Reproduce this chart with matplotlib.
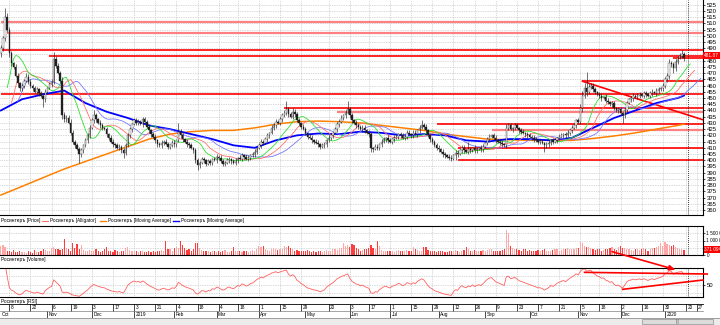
import numpy as np
import pandas as pd
import matplotlib
matplotlib.use("Agg")
import matplotlib.pyplot as plt
from matplotlib.patches import Rectangle, ConnectionPatch
import matplotlib.transforms as mtransforms

plt.rcParams["font.family"] = ["Liberation Sans", "DejaVu Sans"]
NARROW = ["Liberation Sans Narrow", "Liberation Sans", "DejaVu Sans"]

W, H = 720, 325
NAME = "Росинтеръ"

# daily closes, 2 Oct 2018 .. 17 Jan 2020
close = [float(v) for v in """
490 498 515 505 486 478 475 468 462 458
460 464 467 463 460 458 455 457 454 452
449 455 458 461 463 481 476 470 464 436
433 434 430 422 415 412 409 405 408 412
416 420 426 432 436 433 430 428 426 425
421 418 415 413 412 410 411 408 406 412
420 425 429 432 430 431 429 433 431 427
424 421 419 416 413 412 414 415 413 411
412 414 413 416 423 420 417 415 413 412
410 408 400 396 398 401 400 397 399 398
401 400 403 402 399 397 398 400 401 399
398 400 402 401 404 403 401 402 404 405
407 410 412 415 414 417 420 422 426 428
431 430 433 436 438 441 437 435 439 437
432 430 427 425 422 419 418 416 415 414
413 411 412 413 416 418 420 422 425 429
431 434 436 438 441 436 432 430 428 427
425 426 424 422 421 410 409 411 410 413
415 417 418 416 415 417 418 419 421 420
418 419 422 421 420 422 421 424 426 428
427 424 420 417 415 412 410 409 407 405
404 403 402 401 404 406 405 408 410 408
407 409 408 410 408 409 410 409 411 414
417 419 420 418 416 415 414 413 412 426
428 425 426 428 426 424 423 422 421 420
419 418 417 416 415 415 414 412 413 414
416 415 416 418 419 420 421 420 422 424
426 428 432 431 442 452 458 455 459 460
457 455 453 452 450 451 448 447 445 446
442 440 441 438 436 440 446 449 450 452
451 452 453 452 454 453 452 454 455 454
456 457 458 460 465 468 478 477 474 479
482 484 485 481.87
""".split()]
first_open = 486.0

# shadow length above / below the candle body
up_shadow = [float(v) for v in """
3 2 7 3 2 2 1 2 2 1
2 1 3 2 2 1 2 2 1 2
2 2 1 2 2 6 3 2 2 3
3 2 2 3 2 1 2 2 2 1
2 2 2 2 4 2 1 2 2 1
2 1 2 2 1 2 2 1 2 2
2 2 1 2 2 2 1 2 2 1
2 1 2 2 1 2 2 1 2 2
1 2 2 1 7 2 2 1 2 2
2 1 2 2 1 2 2 1 2 2
1 2 2 1 2 2 1 2 2 1
2 2 1 2 2 1 2 2 1 2
2 1 2 2 1 2 2 1 2 2
2 1 2 2 2 7 2 2 3 2
2 2 1 2 2 1 2 2 1 2
2 1 2 2 1 2 2 1 2 2
2 2 1 2 7 2 2 1 2 2
1 2 2 1 2 2 1 2 2 1
2 2 1 2 2 1 2 2 1 2
2 1 2 2 1 2 2 1 2 4
2 2 1 2 2 1 2 2 1 2
2 1 2 2 1 2 2 1 2 2
1 6 2 1 2 2 1 2 2 1
2 2 1 2 2 1 2 2 1 3
2 2 1 2 2 1 2 2 1 2
2 1 2 2 1 2 2 1 2 2
1 2 2 1 2 2 1 2 2 1
2 2 1 2 3 4 4 13 3 2
2 2 1 2 2 1 2 2 1 2
2 1 2 2 1 2 2 1 2 2
1 2 2 1 2 2 1 2 2 1
2 2 1 2 2 2 3 2 2 2
2 2 4 2
""".split()]
down_shadow = [float(v) for v in """
3 2 2 2 3 2 2 1 3 2
2 2 1 2 2 2 1 2 2 1
6 2 2 1 2 2 2 1 2 3
2 2 1 2 2 2 1 7 2 2
1 2 2 1 2 2 1 2 2 1
2 2 1 2 2 1 2 2 4 2
1 2 2 1 2 2 1 2 2 1
2 2 1 2 2 1 2 2 1 2
2 1 2 2 1 2 2 1 2 2
1 2 2 4 2 1 2 2 1 2
2 1 2 2 1 2 2 1 2 2
1 2 2 1 2 2 1 2 2 1
2 2 1 2 2 1 2 2 1 2
2 1 2 2 1 2 2 1 2 2
1 2 2 1 2 2 1 2 2 1
2 2 1 2 2 1 2 2 1 2
2 1 2 2 1 2 2 1 2 2
1 2 2 1 2 3 2 1 2 2
2 1 2 2 1 2 2 1 2 2
1 2 2 1 2 2 1 2 2 1
2 2 1 2 2 1 2 2 1 2
2 1 2 2 1 4 2 1 2 2
1 2 2 1 2 2 1 2 2 1
2 2 1 2 2 1 2 2 1 2
2 1 2 2 1 2 2 1 2 2
1 2 2 1 2 2 1 5 2 2
2 2 1 2 2 1 2 2 1 2
2 1 2 2 2 3 2 3 2 2
2 2 1 2 2 1 2 2 1 2
2 1 2 2 6 2 2 1 2 2
1 2 2 1 2 2 1 2 2 1
2 2 1 2 2 2 3 2 4 2
2 1 2 2
""".split()]

# daily volume, thousands of shares
volume_k = [float(v) for v in """
650 700 560 300 250 200 350 180 220 280
240 180 150 300 200 160 350 220 190 250
400 350 300 280 450 520 380 420 350 400
1090 450 380 300 820 500 780 400 700 350
300 250 320 280 260 420 300 220 250 380
520 300 250 200 330 280 220 250 300 450
560 350 300 250 280 200 260 310 230 200
270 240 300 220 260 280 350 300 1000 420
380 300 450 520 500 1000 680 450 350 380
300 420 820 860 500 350 300 250 280 220
250 300 200 260 230 280 350 240 200 260
560 300 280 250 220 300 260 240 280 330
300 380 600 560 620 420 350 300 380 450
400 350 420 380 600 580 620 450 380 300
350 300 280 250 300 320 250 200 280 240
300 260 220 280 350 300 260 380 420 350
450 500 820 600 700 520 780 700 450 380
300 350 420 380 450 700 500 420 950 600
350 300 280 250 300 260 230 280 320 250
300 280 350 260 300 560 400 350 300 280
550 520 350 300 280 250 220 300 260 280
240 200 250 300 280 320 260 240 300 350
560 420 300 280 350 300 250 280 320 300
350 400 380 300 280 260 300 350 420 1700
1500 600 450 380 400 350 300 420 380 300
350 300 280 250 320 300 350 400 300 280
300 350 400 380 300 350 420 380 450 420
400 380 450 500 870 820 600 520 560 450
400 350 420 380 300 350 400 380 450 570
420 350 560 620 500 450 380 420 350 300
380 420 350 400 450 380 300 420 500 450
520 600 800 650 900 750 700 600 680 560
450 380 420 371.094
""".split()]

# moving averages read every 10 sessions (last point on the final session)
ma_bars = list(range(0, 321, 10)) + [323]
ma_orange = [372, 379, 386, 393, 399, 405, 411, 417, 421, 423, 424, 424, 426, 429,
             431, 431.5, 431, 430, 428, 426, 424, 421, 419, 417, 416.5, 416, 416,
             416, 417.5, 419.5, 422, 425, 428, 429]
ma_blue = [440, 449, 453, 456, 446, 439, 434, 428, 425, 421, 417, 412, 410, 416,
           420, 421.5, 421, 423, 422, 420, 421, 420, 416, 415, 417, 417, 416, 418,
           426, 434, 440, 446, 450, 452]

# support / resistance levels: price, first session, light or solid
level_price = [511, 502, 489, 484, 453, 442, 438.6, 463.5, 482, 428.8, 424.3, 409.8, 400]
level_start = [0, 3, 0, 23, 0, 134, 159, 275, 318, 206, 232, 216, 216]
level_light = [True, True, False, False, False, False, True, False, False, False, True, False, False]

# trend line on price and on RSI (session, value)
price_trend = [(275, 463.5), (332, 432.5)]
rsi_trend_top = [(276, 79.5), (334, 75.5)]
rsi_trend_low = [(294, 38.5), (332, 61.0)]

holidays = ["2018-11-05", "2018-12-31", "2019-01-01", "2019-01-02", "2019-01-07",
            "2019-01-08", "2019-03-08", "2019-05-01", "2019-05-09", "2019-06-12",
            "2019-11-04", "2019-12-31", "2020-01-01", "2020-01-02", "2020-01-07"]
day_ticks = ["2018-10-08", "2018-10-22", "2018-11-06", "2018-11-19", "2018-12-03",
             "2018-12-17", "2019-01-03", "2019-01-21", "2019-02-04", "2019-02-18",
             "2019-03-04", "2019-03-18", "2019-04-01", "2019-04-15", "2019-04-29",
             "2019-05-20", "2019-06-03", "2019-06-17", "2019-07-01", "2019-07-15",
             "2019-07-29", "2019-08-12", "2019-08-26", "2019-09-09", "2019-09-23",
             "2019-10-07", "2019-10-21", "2019-11-05", "2019-11-18", "2019-12-02",
             "2019-12-16", "2019-12-30", "2020-01-20", "2020-01-27"]
month_abbr = ["Jan", "Feb", "Mar", "Apr", "May", "Jun", "Jul", "Aug", "Sep", "Oct", "Nov", "Dec"]

sessions = pd.bdate_range("2018-10-02", "2020-02-14")
sessions = sessions[~sessions.isin(pd.to_datetime(holidays))]

n = len(close)
idx = np.arange(n)
close = np.array(close)
opens = np.r_[first_open, close[:-1]]
high = np.maximum(opens, close) + np.array(up_shadow)
low = np.minimum(opens, close) - np.array(down_shadow)
volume = np.array(volume_k) * 1000

XL = (-0.4, 332.0)
GRID = dict(color="#b4b4b4", linestyle=(0, (1, 1.5)), linewidth=0.5)
FS = 4.3     # price scale
FS_SMALL = 3.4

fig = plt.figure(figsize=(W / 100, H / 100), dpi=100)


def px_axes(x0, y0, x1, y1):
    return fig.add_axes([x0 / W, 1 - y1 / H, (x1 - x0) / W, (y1 - y0) / H])


def ftext(x, y, s, **kw):
    kw.setdefault("fontsize", FS_SMALL)
    kw.setdefault("va", "center")
    kw.setdefault("family", NARROW)
    return fig.text(x / W, 1 - y / H, s, **kw)


def fline(x0, y0, x1, y1, **kw):
    fig.add_artist(plt.Line2D([x0 / W, x1 / W], [1 - y0 / H, 1 - y1 / H],
                              transform=fig.transFigure, **kw))


tick_bars = [sessions.get_loc(pd.Timestamp(d)) for d in day_ticks]

# ---- price panel
ax = px_axes(0, 0, 703, 215)
ax.set_xlim(*XL)
ax.set_ylim(356.0, 528.8)
for t in tick_bars:
    ax.axvline(t, zorder=0, **GRID)
for p in range(360, 530, 5):
    ax.axhline(p, zorder=0, **GRID)

for p, s, light in zip(level_price, level_start, level_light):
    if light:
        ax.hlines(p, max(s, XL[0]), XL[1], color="#ff8080", lw=1.6, zorder=1)
    else:
        ax.hlines(p, max(s, XL[0]), XL[1], color="#ff0000", lw=1.2, zorder=1)
(tx0, ty0), (tx1, ty1) = price_trend
ax.plot([tx0, tx1], [ty0, ty1], color="#ff0000", lw=1.2, zorder=1)

ax.plot(ma_bars, ma_orange, color="#ff8000", lw=1.1, zorder=2)
ax.plot(ma_bars, ma_blue, color="#0000ff", lw=1.3, zorder=2)

# Alligator: smoothed median price, shifted forward
median = (high + low) / 2


def smma(values, period, seed):
    out, s = [], seed
    for v in values:
        s = s + (v - s) / period
        out.append(s)
    return np.array(out)


for period, shift, seed, col in [(13, 8, 444, "#7878ff"), (8, 5, 440, "#ff7070"), (5, 3, 451, "#30e030")]:
    ax.plot(idx + shift, smma(median, period, seed), color=col, lw=0.6, zorder=3)

up = close >= opens
ax.vlines(idx, low, high, color="#202020", lw=0.45, zorder=4)
body = np.maximum(np.abs(close - opens), 0.4)
ax.bar(idx, body, bottom=np.minimum(opens, close), width=0.7,
       color=np.where(up, "white", "#202020"), edgecolor="#202020", linewidth=0.25, zorder=5)

ax.axvline(325, color="black", linestyle=(0, (1, 1.5)), lw=0.6, zorder=1)
ax.yaxis.tick_right()
ax.set_yticks(range(360, 530, 5))
ax.tick_params(axis="y", labelsize=FS, length=1.5, pad=1, width=0.5)
ax.set_xticks([])
for sp in ["top", "left"]:
    ax.spines[sp].set_visible(False)
for sp in ["right", "bottom"]:
    ax.spines[sp].set_linewidth(0.8)

last = close[-1]
ax.text(1.002, (last - 356.0) / (528.8 - 356.0) + 0.012, f"{last:.2f}", transform=ax.transAxes,
        fontsize=FS_SMALL, color="white", va="center", ha="left", zorder=10,
        bbox=dict(boxstyle="square,pad=0.2", fc="#ff0000", ec="none"))

# ---- legend strip
ftext(1, 220.5, f"{NAME} [Price]")
fline(42, 220.5, 48, 220.5, color="#ff7070", lw=0.8)
ftext(50, 220.5, f"{NAME} [Alligator]")
fline(100, 220.5, 106, 220.5, color="#ff8000", lw=1.0)
ftext(108, 220.5, f"{NAME} [Moving Average]")
fline(173, 220.5, 179, 220.5, color="#0000ff", lw=1.0)
ftext(181, 220.5, f"{NAME} [Moving Average]")

# ---- volume panel
av = px_axes(0, 226, 703, 255)
av.set_xlim(*XL)
av.set_ylim(0, 2_000_000)
for t in tick_bars:
    av.axvline(t, zorder=0, **GRID)
for v in (500_000, 1_000_000, 1_500_000):
    av.axhline(v, zorder=0, **GRID)
av.bar(idx, volume, width=0.55, color=np.where(up, "#ffa8a8", "#ff3c3c"), zorder=2)
av.axvline(325, color="black", linestyle=(0, (1, 1.5)), lw=0.6)
av.yaxis.tick_right()
av.set_yticks([0, 500_000, 1_000_000, 1_500_000])
av.set_yticklabels(["0", "500 000", "1 000 000", "1 500 000"])
av.tick_params(axis="y", labelsize=FS_SMALL, length=1.5, pad=1, width=0.5)
av.set_xticks([])
av.spines["left"].set_visible(False)
for sp in ["right", "bottom", "top"]:
    av.spines[sp].set_linewidth(0.8)
av.text(1.002, volume[-1] / 2_000_000, f"{volume[-1]:,.0f}".replace(",", " "),
        transform=av.transAxes, fontsize=FS_SMALL, color="white", va="center", ha="left",
        zorder=10, bbox=dict(boxstyle="square,pad=0.15", fc="#ff0000", ec="none"))
ftext(1, 260, f"{NAME} [Volume]")

# ---- RSI panel
delta = np.diff(close, prepend=close[0])
gain = pd.Series(np.clip(delta, 0, None)).ewm(alpha=1 / 14, adjust=True).mean()
loss = pd.Series(np.clip(-delta, 0, None)).ewm(alpha=1 / 14, adjust=True).mean()
rsi = 100 - 100 / (1 + gain / loss.replace(0, np.nan))
rsi = rsi.fillna(100).to_numpy()

ar = px_axes(0, 268, 703, 297)
ar.set_xlim(*XL)
ar.set_ylim(20, 90)
for t in tick_bars:
    ar.axvline(t, zorder=0, **GRID)
for v in (30, 50, 70):
    ar.axhline(v, zorder=0, **GRID)
ar.plot(idx, rsi, color="#ff6060", lw=0.6, zorder=2)
for seg in (rsi_trend_top, rsi_trend_low):
    (a0, b0), (a1, b1) = seg
    ar.plot([a0, a1], [b0, b1], color="#ff0000", lw=1.2, clip_on=False, zorder=3)
ar.axvline(325, color="black", linestyle=(0, (1, 1.5)), lw=0.6)
ar.yaxis.tick_right()
ar.set_yticks([50])
ar.tick_params(axis="y", labelsize=FS, length=1.5, pad=1, width=0.5)
ar.set_xticks([])
ar.spines["left"].set_visible(False)
for sp in ["right", "bottom", "top"]:
    ar.spines[sp].set_linewidth(0.8)
ftext(1, 301, f"{NAME} [RSI]")

arrow = ConnectionPatch(xyA=(289, 230_000), coordsA=av.transData,
                        xyB=(319, 86), coordsB=ar.transData,
                        arrowstyle="-|>,head_length=0.35,head_width=0.15",
                        color="#ff0000", lw=1.2, zorder=10)
fig.add_artist(arrow)

# ---- date axis
ad = px_axes(0, 304, 703, 318)
ad.set_xlim(*XL)
ad.set_ylim(0, 2)
ad.axis("off")
fline(0, 304, 703, 304, color="black", lw=0.6)
fline(0, 311, 703, 311, color="#808080", lw=0.5)
fline(0, 318, 720, 318, color="#808080", lw=0.5)
off = mtransforms.offset_copy(ad.transData, fig=fig, x=1.5, y=0, units="dots")
for t, d in zip(tick_bars, day_ticks):
    ad.plot([t, t], [1, 2], color="black", lw=0.5)
    ad.text(t, 1.5, str(pd.Timestamp(d).day), transform=off, fontsize=FS_SMALL,
            va="center", family=NARROW)

ad.text(XL[0], 0.5, month_abbr[sessions[0].month - 1], transform=off,
        fontsize=FS_SMALL, va="center", family=NARROW)
prev = sessions[0].month
for i, d in enumerate(sessions[:332]):
    if d.month != prev:
        prev = d.month
        label = str(d.year) if d.month == 1 else month_abbr[d.month - 1]
        ad.plot([i, i], [0, 1], color="black", lw=0.5)
        ad.text(i, 0.5, label, transform=off, fontsize=FS_SMALL, va="center", family=NARROW)

# ---- scroll bar
fig.add_artist(Rectangle((0, 0), 1, 7 / H, transform=fig.transFigure,
                         fc="#ececec", ec="none"))
fig.add_artist(Rectangle((642 / W, 1 / H), 71 / W, 5 / H, transform=fig.transFigure,
                         fc="#dcdcdc", ec="#909090", lw=0.5))
ftext(678, 321.5, "|||", fontsize=3.5, ha="center", color="#606060")

fig.savefig("out.png", dpi=100, facecolor="white")
